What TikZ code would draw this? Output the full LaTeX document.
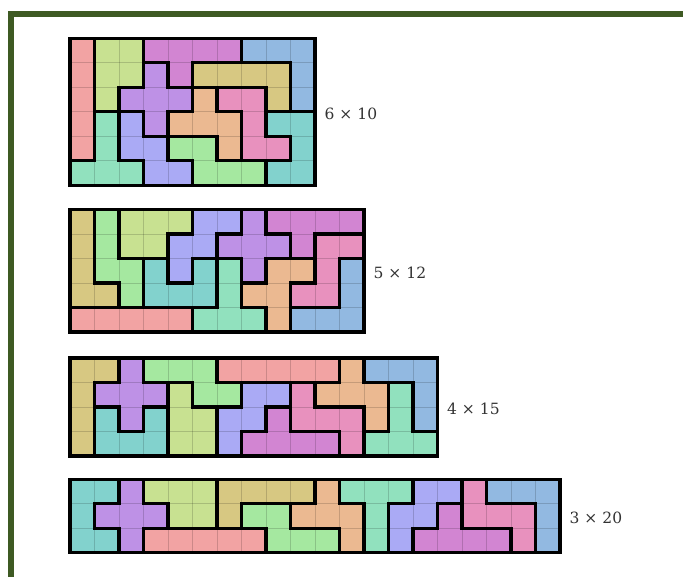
\documentclass[tikz,border=0pt]{standalone}
\usepackage{fontspec}
\setmainfont{DejaVu Serif}
\definecolor{pcI}{HTML}{F2A3A3}
\definecolor{pcP}{HTML}{C8E191}
\definecolor{pcY}{HTML}{D285D2}
\definecolor{pcV}{HTML}{92B9E1}
\definecolor{pcX}{HTML}{BE91E6}
\definecolor{pcL}{HTML}{D7C882}
\definecolor{pcF}{HTML}{EBB991}
\definecolor{pcZ}{HTML}{E891BE}
\definecolor{pcT}{HTML}{91E1BE}
\definecolor{pcW}{HTML}{AAAAF5}
\definecolor{pcN}{HTML}{A5E8A0}
\definecolor{pcU}{HTML}{82D2CD}
\definecolor{framegreen}{HTML}{3E5A23}
\def\cellw{24.5}
\tikzset{
  gridline/.style={line width=0.7pt, draw=black, draw opacity=0.16},
  pieceedge/.style={line width=3.2pt, draw=black, line cap=rect},
  dimlabel/.style={anchor=west, inner sep=0pt, text=black!80, font=\fontsize{15.5}{18}\selectfont},
}
\newcommand\storegrid[2]{%
  \foreach \rowlist [count=\rr from 0] in {#2} {%
    \foreach \pcs [count=\cc from 0] in \rowlist {%
      \expandafter\xdef\csname pc@#1@\rr @\cc\endcsname{\pcs}%
    }%
  }%
}
\newcommand\drawpgrid[5]{%
  \pgfmathtruncatemacro\lastr{#2-1}%
  \pgfmathtruncatemacro\lastc{#3-1}%
  \foreach \rr in {0,...,\lastr} {%
    \foreach \cc in {0,...,\lastc} {%
      \edef\pp{\csname pc@#1@\rr @\cc\endcsname}%
      \fill[fill=pc\pp] ({#4+\cc*\cellw},{#5+\rr*\cellw}) rectangle ++(\cellw,\cellw);
    }%
  }%
  \foreach \cc in {1,...,\lastc} {\draw[gridline] ({#4+\cc*\cellw},#5) -- ++(0,{#2*\cellw});}%
  \foreach \rr in {1,...,\lastr} {\draw[gridline] (#4,{#5+\rr*\cellw}) -- ++({#3*\cellw},0);}%
  \foreach \rr in {0,...,\lastr} {%
    \foreach \cc in {0,...,\lastc} {%
      \edef\pa{\csname pc@#1@\rr @\cc\endcsname}%
      \edef\pb{\csname pc@#1@\rr @\the\numexpr\cc+1\relax\endcsname}%
      \edef\pd{\csname pc@#1@\the\numexpr\rr+1\relax @\cc\endcsname}%
      \ifx\pa\pb\else \draw[pieceedge] ({#4+(\cc+1)*\cellw},{#5+\rr*\cellw}) -- ++(0,\cellw);\fi
      \ifx\pa\pd\else \draw[pieceedge] ({#4+\cc*\cellw},{#5+(\rr+1)*\cellw}) -- ++(\cellw,0);\fi
    }%
  }%
  \draw[pieceedge] (#4,#5) rectangle ++({#3*\cellw},{#2*\cellw});
}
\begin{document}
\begin{tikzpicture}[x=1pt,y=-1pt]
\useasboundingbox (0,0) rectangle (683,577);
\clip (0,0) rectangle (683,577);
\fill[white] (0,0) rectangle (683,577);
\draw[line width=6pt, draw=framegreen] (11.3,13.7) rectangle (700,600);
\storegrid{A}{{I,P,P,Y,Y,Y,Y,V,V,V},{I,P,P,X,Y,L,L,L,L,V},{I,P,X,X,X,F,Z,Z,L,V},{I,T,W,X,F,F,F,Z,U,U},{I,T,W,W,N,N,F,Z,Z,U},{T,T,T,W,W,N,N,N,U,U}}
\storegrid{B}{{L,N,P,P,P,W,W,X,Y,Y,Y,Y},{L,N,P,P,W,W,X,X,X,Y,Z,Z},{L,N,N,U,W,U,T,X,F,F,Z,V},{L,L,N,U,U,U,T,F,F,Z,Z,V},{I,I,I,I,I,T,T,T,F,V,V,V}}
\storegrid{C}{{L,L,X,N,N,N,I,I,I,I,I,F,V,V,V},{L,X,X,X,P,N,N,W,W,Z,F,F,F,T,V},{L,U,X,U,P,P,W,W,Y,Z,Z,Z,F,T,V},{L,U,U,U,P,P,W,Y,Y,Y,Y,Z,T,T,T}}
\storegrid{D}{{U,U,X,P,P,P,L,L,L,L,F,T,T,T,W,W,Z,V,V,V},{U,X,X,X,P,P,L,N,N,F,F,F,T,W,W,Y,Z,Z,Z,V},{U,U,X,I,I,I,I,I,N,N,N,F,T,W,Y,Y,Y,Y,Z,V}}
\drawpgrid{A}{6}{10}{70}{38.3}
\drawpgrid{B}{5}{12}{70}{209.5}
\drawpgrid{C}{4}{15}{70}{358}
\drawpgrid{D}{3}{20}{70}{479.3}
\node[dimlabel] (labA) at (324.5,113.8) {6 × 10};
\node[dimlabel] (labB) at (373.5,272.8) {5 × 12};
\node[dimlabel] (labC) at (447,409) {4 × 15};
\node[dimlabel] (labD) at (569.5,517.5) {3 × 20};
\end{tikzpicture}
\end{document}
